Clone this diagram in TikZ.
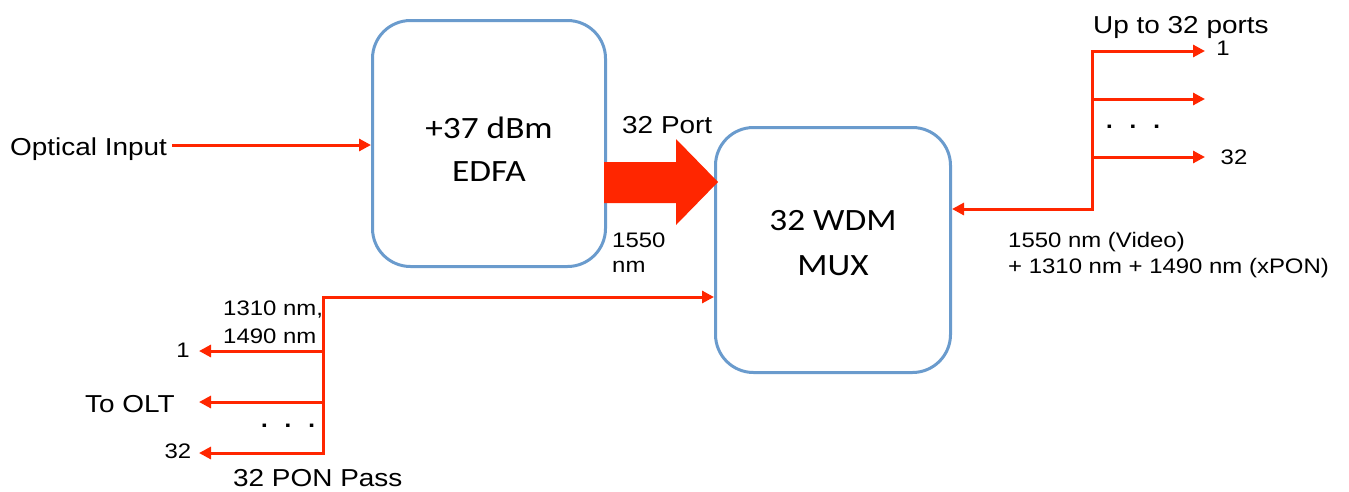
\documentclass[tikz,border=0pt]{standalone}
\usepackage{fontspec}
\setmainfont{Liberation Sans}[FakeStretch=1.14]
\newfontfamily\calib{Carlito}[FakeStretch=1.14]
\usetikzlibrary{arrows.meta,calc}
\definecolor{boxblue}{RGB}{106,155,205}
\definecolor{fred}{RGB}{255,38,0}
\tikzset{
  box/.style={draw=boxblue, line width=3pt, rounded corners=38pt, fill=white, inner sep=0pt},
  wire/.style={draw=fred, line width=3pt},
  arr/.style={wire, -{Triangle[length=12pt,width=12pt]}},
  dbl/.style={wire, {Triangle[length=12pt,width=12pt]}-{Triangle[length=12pt,width=12pt]}},
  big/.style={font=\fontsize{24.5}{29}\selectfont, inner sep=0pt},
  small/.style={font=\fontsize{21}{25}\selectfont, inner sep=0pt},
  btext/.style={font=\calib\fontsize{31}{37}\selectfont, inner sep=0pt},
  dots/.style={font=\fontsize{32}{36}\selectfont, inner sep=0pt},
}
\begin{document}
\begin{tikzpicture}[x=1pt,y=-1pt]
\useasboundingbox (0,0) rectangle (1349,491);
% boxes
\node[box, minimum width=233pt, minimum height=246pt] (edfa) at (489,143.5) {};
\node[box, minimum width=235pt, minimum height=245pt] (mux) at (833,250) {};
\node[btext, anchor=base] (edfa1) at (489,138) {+37 dBm};
\node[btext, anchor=base] (edfa2) at (489,181) {EDFA};
\node[btext, anchor=base] (mux1) at (833,230) {32 WDM};
\node[btext, anchor=base] (mux2) at (833,275) {MUX};
% optical input
\node[big, anchor=base west] (optin) at (10,155) {Optical Input};
\coordinate (oin) at (172,145);
\draw[arr] (oin) -- (edfa.west |- oin);
% big arrow
\fill[fred] ($(edfa.east |- 0,162)+(-3,0)$) -- (676,162) -- (676,139) -- ($(mux.west |- 0,182)+(4,0)$) -- (676,225) -- (676,203) -- ($(edfa.east |- 0,203)+(-3,0)$) -- cycle;
\node[big, anchor=base west] (port) at (622,133) {32 Port};
\node[small, anchor=base west] (n1550a) at (612,247) {1550};
\node[small, anchor=base west] (n1550b) at (612,272) {nm};
% right side
\coordinate (rt) at (1092,209);
\coordinate (r1) at (1092,51);
\coordinate (r2) at (1092,99);
\coordinate (r3) at (1092,157);
\coordinate (p1) at (1205,51);
\coordinate (p2) at (1205,99);
\coordinate (p3) at (1205,157);
\draw[dbl] (mux.east |- rt) -- (rt) -- (r1) -- (p1);
\draw[arr] (r2) -- (p2);
\draw[arr] (r3) -- (p3);
\node[small] (rl1) at (1223,48) {1};
\node[small] (rl32) at (1234,157) {32};
\node[big, anchor=base west] (upto) at (1093,33) {Up to 32 ports};
\node[dots] (rdots) at (1133,127) {. . .};
\node[small, anchor=base west] (vid1) at (1008,247) {1550 nm (Video)};
\node[small, anchor=base west] (vid2) at (1008,273) {+ 1310 nm + 1490 nm (xPON)};
% bottom left
\coordinate (lt) at (323,297);
\coordinate (l1) at (323,351);
\coordinate (l2) at (323,402);
\coordinate (l3) at (323,453);
\coordinate (q1) at (199,351);
\coordinate (q2) at (199,402);
\coordinate (q3) at (199,453);
\draw[dbl] (q3) -- (l3) -- (lt) -- (mux.west |- lt);
\draw[arr] (l1) -- (q1);
\draw[arr] (l2) -- (q2);
\node[small, anchor=base west] (pon1) at (223,315) {1310 nm,};
\node[small, anchor=base west] (pon2) at (223,343) {1490 nm};
\node[small] (ll1) at (183,350) {1};
\node[big, anchor=base west] (olt) at (85,412) {To OLT};
\node[small] (ll32) at (178,451) {32};
\node[dots] (ldots) at (288,426) {. . .};
\node[big, anchor=base west] (pass) at (233,486) {32 PON Pass};
\end{tikzpicture}
\end{document}
